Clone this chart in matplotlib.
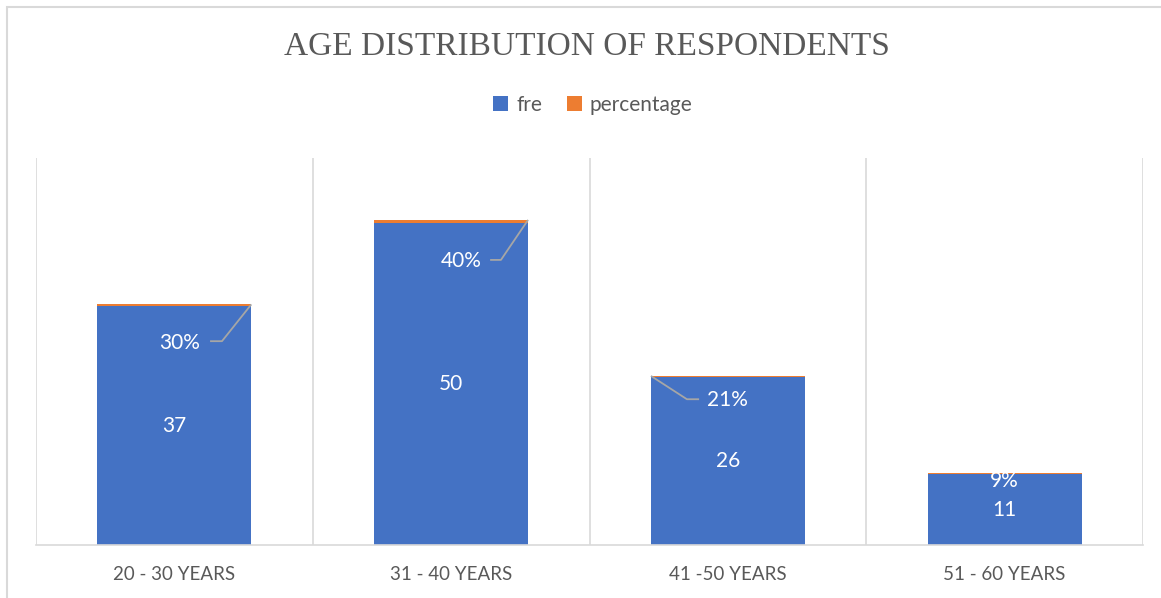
import matplotlib.pyplot as plt
from matplotlib.patches import Rectangle

grupos = ["20 - 30 YEARS", "31 - 40 YEARS", "41 -50 YEARS", "51 - 60 YEARS"]
fre = [37, 50, 26, 11]
percentage = [0.30, 0.40, 0.21, 0.09]

# posicao dos rotulos de percentual (deslocamento x, altura y)
pos_rotulo = [(0.02, 31.3), (0.036, 44.0), (0.0, 22.5), (0.0, 9.9)]
# linhas guia: (x inicio, x cotovelo, y) relativos ao centro da barra
guias = [(0.129, 0.172, 31.6), (0.141, 0.180, 44.2), (-0.104, -0.148, 22.6), None]

azul = "#4472C4"
laranja = "#ED7D31"
cinza_txt = "#595959"
cinza_linha = "#D9D9D9"
fonte = ["Lato", "DejaVu Sans"]

W, H = 1161, 598
fig = plt.figure(figsize=(W / 100, H / 100), dpi=100)
ax = fig.add_axes([36 / W, (H - 545) / H, (1143 - 36) / W, (545 - 158) / H])

x = range(len(grupos))
larg = 0.556
ax.bar(x, fre, larg, color=azul, label="fre", zorder=2)
ax.bar(x, percentage, larg, bottom=fre, color=laranja, label="percentage", zorder=2)

for i in x:
    ax.text(i, fre[i] / 2, str(fre[i]), ha="center", va="center",
            color="white", fontsize=15, family=fonte, zorder=3)
    dx, y = pos_rotulo[i]
    ax.text(i + dx, y, f"{percentage[i] * 100:.0f}%", ha="center", va="center",
            color="white", fontsize=15, family=fonte, zorder=3)
    if guias[i] is not None:
        x0, x1, yg = guias[i]
        canto = larg / 2 if x1 > 0 else -larg / 2
        ax.plot([i + x0, i + x1, i + canto], [yg, yg, fre[i] + percentage[i]],
                color="#A6A6A6", lw=1.3, zorder=3, solid_capstyle="butt")

ax.set_xlim(-0.5, len(grupos) - 0.5)
ax.set_ylim(0, 60)
ax.set_yticks([])
ax.set_xticks(list(x))
ax.set_xticklabels(grupos, color=cinza_txt, fontsize=13.5, family=fonte)
ax.tick_params(axis="x", length=0, pad=15)
ax.set_xticks([i - 0.5 for i in range(len(grupos) + 1)], minor=True)
ax.tick_params(axis="x", which="minor", length=0)
ax.grid(axis="x", which="minor", color=cinza_linha, lw=1.2, zorder=0)
for lado in ["top", "left", "right"]:
    ax.spines[lado].set_visible(False)
ax.spines["bottom"].set_color(cinza_linha)
ax.spines["bottom"].set_linewidth(1.2)

fig.text(587 / W, 1 - 47 / H, "AGE DISTRIBUTION OF RESPONDENTS", ha="center", va="center",
         color=cinza_txt, fontsize=24, family="Liberation Serif")

fig.legend(loc="center", bbox_to_anchor=(593 / W, 1 - 105 / H), ncol=2, frameon=False,
           handlelength=0.7, handleheight=0.7, columnspacing=1.2, handletextpad=0.4,
           prop={"family": "Lato", "size": 15}, labelcolor=cinza_txt)

# moldura da area do grafico
fig.patches.append(Rectangle((7 / W, -0.1), 1.2, 1.1 - 7 / H, transform=fig.transFigure,
                             fill=False, edgecolor=cinza_linha, lw=1.5))

fig.savefig("out.png", dpi=100)
